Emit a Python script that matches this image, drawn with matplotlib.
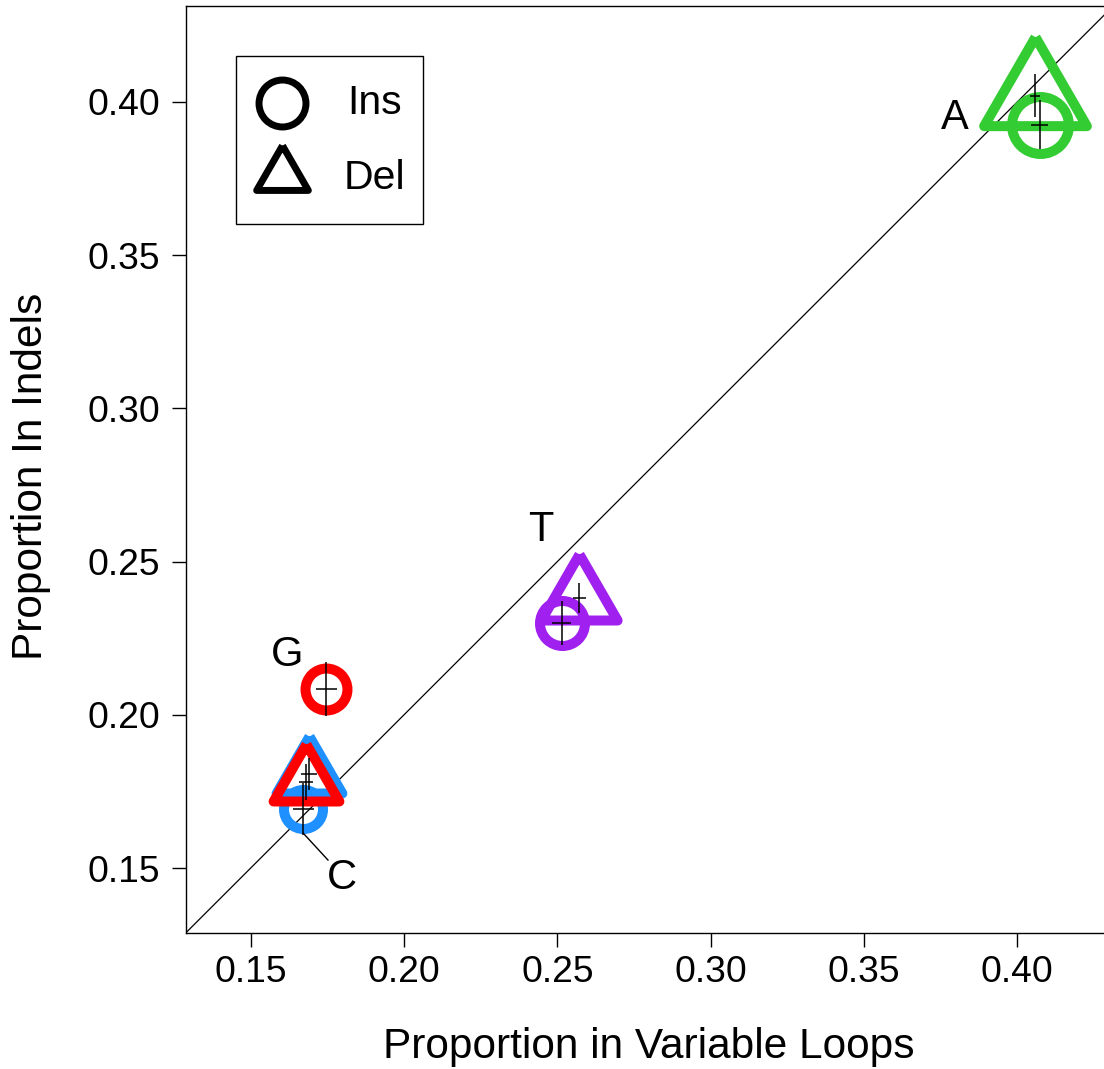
import matplotlib
matplotlib.use("Agg")
import matplotlib.pyplot as plt
from matplotlib.markers import MarkerStyle
from matplotlib.patches import Rectangle

plt.rcParams['font.family'] = ['Liberation Sans', 'DejaVu Sans']

# Nucleotide proportions: variable loops (x) vs indels (y)
bases = ['A', 'C', 'G', 'T']
colors = ['#33CC33', '#1E90FF', '#FF0000', '#A020F0']

ins_x = [0.4074, 0.1671, 0.1746, 0.2515]
ins_y = [0.3925, 0.1693, 0.2084, 0.2300]
ins_xerr = [0.0028, 0.0034, 0.0034, 0.0031]
ins_yerr = [0.0080, 0.0085, 0.0088, 0.0073]
ins_size = [41.0, 28.1, 30.2, 32.4]

del_x = [0.4058, 0.1690, 0.1680, 0.2571]
del_y = [0.4020, 0.1807, 0.1781, 0.2381]
del_xerr = [0.0015, 0.0027, 0.0024, 0.0021]
del_yerr = [0.0070, 0.0052, 0.0059, 0.0050]
del_size = [85.4, 54.7, 54.7, 63.4]

label_pos = {'A': (0.3797, 0.3948), 'T': (0.2447, 0.2603),
             'G': (0.1618, 0.2195), 'C': (0.1798, 0.1467)}

ticks = [0.15, 0.20, 0.25, 0.30, 0.35, 0.40]

# Triangle with its centroid at the data point
tri = MarkerStyle([(0, 1), (0.8660, -0.5), (-0.8660, -0.5), (0, 1)], joinstyle='round')
circ = MarkerStyle('o', joinstyle='round')

fig = plt.figure(figsize=(11.04, 10.69), dpi=100)
ax = fig.add_axes([0.16803, 0.12722, 0.83198, 0.86717])
ax.set_xlim(0.12873, 0.42831)
ax.set_ylim(0.12879, 0.43133)

ax.plot([0, 1], [0, 1], color='black', lw=0.9, zorder=1)

for i in range(len(bases)):
    ax.plot(ins_x[i], ins_y[i], marker=circ, ms=ins_size[i], mfc='none',
            mec=colors[i], mew=7.2, zorder=2)
for i in range(len(bases)):
    ax.plot(del_x[i], del_y[i], marker=tri, ms=del_size[i], mfc='none',
            mec=colors[i], mew=7.2, zorder=3)

ax.errorbar(ins_x, ins_y, xerr=ins_xerr, yerr=ins_yerr, fmt='none',
            ecolor='black', elinewidth=1.1, capsize=0, zorder=4)
ax.errorbar(del_x, del_y, xerr=del_xerr, yerr=del_yerr, fmt='none',
            ecolor='black', elinewidth=1.1, capsize=0, zorder=4)

for b, (lx, ly) in label_pos.items():
    ax.text(lx, ly, b, fontsize=30, ha='center', va='center', zorder=5)
# leader from the C insertion point to its label
ax.plot([0.1671, 0.1752], [0.1614, 0.1526], color='black', lw=1.0, zorder=4)

# Legend
ax.add_patch(Rectangle((0.0550, 0.7648), 0.2036, 0.1813, transform=ax.transAxes,
                       fill=False, edgecolor='black', lw=1.0, zorder=5))
ax.plot(0.1051, 0.8954, marker=circ, ms=33.8, mfc='none', mec='black', mew=5.0,
        transform=ax.transAxes, zorder=6)
ax.plot(0.1051, 0.8172, marker=tri, ms=43.0, mfc='none', mec='black', mew=5.0,
        transform=ax.transAxes, zorder=6)
ax.text(0.1758, 0.8954, 'Ins', fontsize=29.5, ha='left', va='center',
        transform=ax.transAxes, zorder=6)
ax.text(0.1726, 0.8145, 'Del', fontsize=29.5, ha='left', va='center',
        transform=ax.transAxes, zorder=6)

ax.set_xticks(ticks)
ax.set_yticks(ticks)
ax.set_xticklabels([f'{t:.2f}' for t in ticks])
ax.set_yticklabels([f'{t:.2f}' for t in ticks])
ax.tick_params(axis='both', length=10, width=1.0, labelsize=26.8)
ax.tick_params(axis='x', pad=5.5)
ax.tick_params(axis='y', pad=8.5)
ax.spines['right'].set_visible(False)
for s in ['left', 'top', 'bottom']:
    ax.spines[s].set_linewidth(1.0)

fig.text(0.5879, 0.0103, 'Proportion in Variable Loops', fontsize=30.5,
         ha='center', va='baseline')
fig.text(0.0380, 0.5543, 'Proportion In Indels', fontsize=30.5, rotation=90,
         rotation_mode='anchor', ha='center', va='baseline')

fig.savefig('out.png', dpi=100)
